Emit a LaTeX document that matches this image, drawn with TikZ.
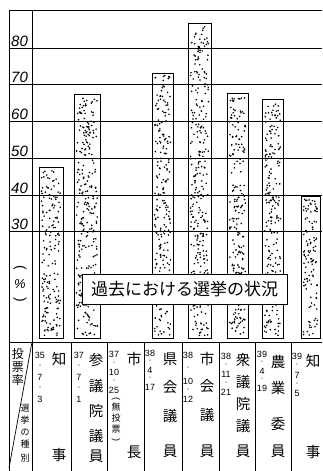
\documentclass[tikz,border=0pt]{standalone}
\usepackage{fontspec}
\setmainfont{Liberation Sans}
\newfontfamily\jp{Noto Sans CJK JP}
\newcommand{\dotbar}[4]{%
  \fill[white] (#1,#3) rectangle (#2,338);
  \pgfmathsetmacro\nd{int((#2-#1)*(338-#3)/24)}
  \foreach \i in {1,...,\nd}{%
    \pgfmathsetmacro\dx{#1+2.5+rnd*(#2-#1-5)}
    \pgfmathsetmacro\dy{#3+2.5+rnd*(338-#3-5)}
    \fill (\dx,\dy) circle (0.9);
  }
  \draw[frameline] (#1,#3) rectangle (#2,338);
  \coordinate (#4) at (#1,#3);
}
\begin{document}
\begin{tikzpicture}[x=1pt,y=-1pt,
  frameline/.style={line width=0.9pt},
  axislabel/.style={anchor=base west,inner sep=0pt,font=\fontsize{15}{15}\selectfont\itshape},
  kanji/.style={inner sep=0pt,font=\jp\fontsize{14.5}{15}\selectfont},
  datenum/.style={inner sep=0pt,font=\fontsize{9}{10}\selectfont},
  datedot/.style={inner sep=0pt,font=\jp\fontsize{5}{5}\selectfont},
  smallkanji/.style={inner sep=0pt,font=\jp\fontsize{9}{9}\selectfont},
  midkanji/.style={inner sep=0pt,font=\jp\fontsize{12}{12}\selectfont}]
\useasboundingbox (0,0) rectangle (322,471);
\fill[white] (0,0) rectangle (322,471);
\pgfmathsetseed{7}
% bars
\dotbar{39}{63}{167}{b1}
\dotbar{74}{100}{94}{b2}
\dotbar{152}{173}{73}{b3}
\dotbar{188}{211}{23}{b4}
\dotbar{227}{248}{93}{b5}
\dotbar{262}{283}{99}{b6}
\dotbar{301}{320}{196}{b7}
% frame and grid
\coordinate (tl) at (9,10);
\coordinate (tr) at (322,10);
\coordinate (bl) at (9,471);
\coordinate (al) at (32,10);
\coordinate (ab) at (32,471);
\draw[frameline] (tl) -- (tr);
\draw[frameline] (tl) -- (bl);
\draw[frameline] (al) -- (ab);
\foreach \v/\y in {80/48,70/84.75,60/121.5,50/158.25,40/195,30/231.75}{
  \draw[frameline] (9,\y) -- (322,\y);
  \node[axislabel] (lab\v) at (11,\y-2) {\v};
}
% header
\coordinate (hl) at (9,342);
\coordinate (hr) at (322,342);
\draw[frameline] (hl) -- (hr);
\foreach \x in {71,107,144,182,219,255,291}{
  \draw[frameline] (\x,342) -- (\x,471);
}
\coordinate (dgb) at (9,468);
\coordinate (dgt) at (32,342);
\draw[line width=0.7pt] (dgb) -- (dgt);
% (%) label
\node[inner sep=0pt,rotate=-90,font=\fontsize{14}{14}\selectfont] (pl) at (20,268) {(};
\node[inner sep=0pt,font=\fontsize{13}{13}\selectfont\itshape] (pc) at (20,284) {\%};
\node[inner sep=0pt,rotate=-90,font=\fontsize{14}{14}\selectfont] (pr) at (20,300) {)};
% left header cell
\foreach \c/\y [count=\k] in {投/354,票/367,率/380}{
  \node[midkanji] (tz\k) at (18,\y) {\c};
}
\foreach \c/\y [count=\k] in {選/408,挙/420,の/432,種/444,別/458}{
  \node[smallkanji] (sb\k) at (25,\y) {\c};
}
% dates: number / dot / number / dot / number
\newcommand{\datecol}[8]{%
  \node[datenum] (#1n1) at (#2,#3) {#4};
  \node[datenum] (#1n2) at (#2,#5) {#6};
  \node[datenum] (#1n3) at (#2,#7) {#8};
  \node[datedot] (#1d1) at (#2,{(#3+#5)/2}) {・};
  \node[datedot] (#1d2) at (#2,{(#5+#7)/2}) {・};
}
\datecol{da}{40}{355}{35}{377}{7}{399}{3}
\datecol{db}{79}{355}{37}{377}{7}{399}{1}
\datecol{dc}{114}{354}{37}{372}{10}{390}{25}
\datecol{dd}{150}{353}{38}{370}{4}{387}{17}
\datecol{de}{188}{355}{38}{381}{10}{399}{12}
\datecol{df}{226}{356}{38}{374}{11}{392}{21}
\datecol{dg}{262}{354}{39}{371}{4}{388}{19}
\datecol{dh}{297}{356}{39}{375}{7}{393}{5}
% column kanji
\foreach \c/\y [count=\k] in {知/359,事/455}{
  \node[kanji] (ka\k) at (59,\y) {\c};}
\foreach \c/\y [count=\k] in {参/360,議/386,院/411,議/436,員/456}{
  \node[kanji] (kb\k) at (96,\y) {\c};}
\node[inner sep=0pt,rotate=-90,font=\fontsize{9}{9}\selectfont] (pc1) at (116,399) {(};
\foreach \c/\y [count=\k] in {無/407,投/418,票/429}{
  \node[smallkanji] (mt\k) at (116,\y) {\c};}
\node[inner sep=0pt,rotate=-90,font=\fontsize{9}{9}\selectfont] (pc2) at (116,440) {)};
\foreach \c/\y [count=\k] in {市/359,長/452}{
  \node[kanji] (kc\k) at (134,\y) {\c};}
\foreach \c/\y [count=\k] in {県/359,会/387,議/416,員/451}{
  \node[kanji] (kd\k) at (170,\y) {\c};}
\foreach \c/\y [count=\k] in {市/359,会/386,議/415,員/451}{
  \node[kanji] (ke\k) at (207,\y) {\c};}
\foreach \c/\y [count=\k] in {衆/360,議/382,院/404,議/426,員/451}{
  \node[kanji] (kf\k) at (243,\y) {\c};}
\foreach \c/\y [count=\k] in {農/362,業/388,委/424,員/451}{
  \node[kanji] (kg\k) at (278,\y) {\c};}
\foreach \c/\y [count=\k] in {知/361,事/452}{
  \node[kanji] (kh\k) at (313,\y) {\c};}
% title box
\node[draw,frameline,fill=white,minimum width=205pt,minimum height=30pt,inner sep=0pt,
      font=\jp\fontsize{17}{17}\selectfont] (title) at (184.5,289) {過去における選挙の状況};
\end{tikzpicture}
\end{document}
